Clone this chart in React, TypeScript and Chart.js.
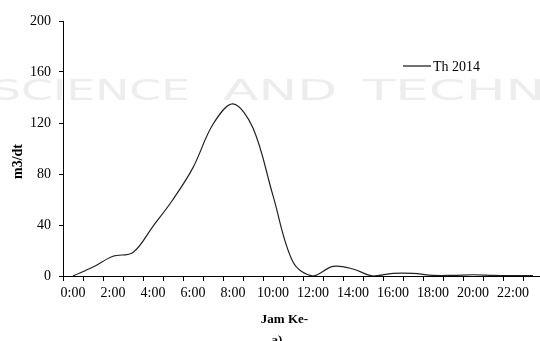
import React, { useEffect, useRef } from "react";
import { Chart, registerables } from "chart.js";

Chart.register(...registerables);

const hours: string[] = [
  "0:00", "1:00", "2:00", "3:00", "4:00", "5:00", "6:00", "7:00",
  "8:00", "9:00", "10:00", "11:00", "12:00", "13:00", "14:00", "15:00",
  "16:00", "17:00", "18:00", "19:00", "20:00", "21:00", "22:00", "23:00",
];
const th2014: number[] = [
  0, 7, 15.5, 18.5, 39, 60, 85, 119,
  135, 116, 63, 11, 0, 7.5, 5.5, 0,
  2, 2, 0.5, 0.5, 1, 0.5, 0.3, 0.3,
];
const seriesName = "Th 2014";
const yTitle = "m3/dt";
const xTitle = "Jam Ke-";
const panelLabel = "a)";
const yMin = 0;
const yMax = 200;
const yStep = 40;

const SERIF = "'Liberation Serif', 'Times New Roman', serif";

const overlayPlugin = {
  id: "overlay",
  beforeDraw(chart: any) {
    const ctx = chart.ctx as CanvasRenderingContext2D;
    ctx.save();
    ctx.fillStyle = "#ededed";
    ctx.font = "28px 'DejaVu Sans', sans-serif";
    ctx.textBaseline = "alphabetic";
    ctx.textAlign = "left";
    const words: [string, number, number][] = [
      ["SCIENCE", -8, 198],
      ["AND", 223, 114],
    ];
    for (const [w, x, target] of words) {
      const m = ctx.measureText(w).width;
      ctx.save();
      ctx.translate(x, 100);
      ctx.scale(target / m, 1);
      ctx.fillText(w, 0, 0);
      ctx.restore();
    }
    const mT = ctx.measureText("TECHN").width;
    ctx.save();
    ctx.translate(363, 100);
    ctx.scale(182 / mT, 1);
    ctx.fillText("TECHNOLOGY", 0, 0);
    ctx.restore();
    ctx.restore();
  },
  afterDraw(chart: any) {
    const ctx = chart.ctx as CanvasRenderingContext2D;
    ctx.save();
    // legend
    ctx.strokeStyle = "#111";
    ctx.lineWidth = 1.2;
    ctx.beginPath();
    ctx.moveTo(403, 66);
    ctx.lineTo(431, 66);
    ctx.stroke();
    ctx.fillStyle = "#000";
    ctx.font = `14px ${SERIF}`;
    ctx.textAlign = "left";
    ctx.textBaseline = "alphabetic";
    ctx.fillText(seriesName, 433, 70.5);
    // x title
    ctx.font = `bold 13px ${SERIF}`;
    ctx.textAlign = "center";
    ctx.fillText(xTitle, 284.5, 322.5);
    ctx.fillText(panelLabel, 277, 344);
    // y title
    ctx.save();
    ctx.translate(21.5, 161.5);
    ctx.rotate(-Math.PI / 2);
    ctx.font = `bold 14px ${SERIF}`;
    ctx.textAlign = "center";
    ctx.textBaseline = "alphabetic";
    ctx.fillText(yTitle, 0, 0);
    ctx.restore();
    ctx.restore();
  },
};

export default function App() {
  const ref = useRef<HTMLCanvasElement | null>(null);
  useEffect(() => {
    if (!ref.current) return;
    const chart = new Chart(ref.current, {
      type: "line",
      data: {
        labels: hours,
        datasets: [
          {
            label: seriesName,
            data: th2014,
            borderColor: "#222",
            borderWidth: 1.2,
            pointRadius: 0,
            fill: false,
            tension: 0.35,
          },
        ],
      },
      options: {
        responsive: false,
        animation: false,
        layout: { padding: { top: 21, right: 17, left: 0, bottom: 0 } },
        plugins: {
          legend: { display: false },
          tooltip: { enabled: false },
        },
        scales: {
          x: {
            type: "category",
            offset: true,
            border: { display: true, color: "#000", width: 1 },
            grid: {
              display: true,
              offset: true,
              drawOnChartArea: false,
              drawTicks: true,
              tickLength: 5,
              color: "#000",
            },
            ticks: {
              autoSkip: false,
              maxRotation: 0,
              minRotation: 0,
              padding: 4,
              color: "#000",
              font: { family: SERIF, size: 14 },
              callback: (_v: any, i: number) => (i % 2 === 0 ? hours[i] : ""),
            },
            afterFit: (s: any) => {
              s.height = 65;
            },
          },
          y: {
            min: yMin,
            max: yMax,
            border: { display: true, color: "#000", width: 1 },
            grid: {
              display: true,
              drawOnChartArea: false,
              drawTicks: true,
              tickLength: 4,
              color: "#000",
            },
            ticks: {
              stepSize: yStep,
              padding: 8,
              color: "#000",
              font: { family: SERIF, size: 14 },
            },
            afterFit: (s: any) => {
              s.width = 63;
            },
          },
        },
      },
      plugins: [overlayPlugin],
    });
    return () => chart.destroy();
  }, []);
  return (
    <div
      style={{
        position: "fixed",
        left: 0,
        top: 0,
        width: 540,
        height: 341,
        overflow: "hidden",
        background: "#fff",
      }}
    >
      <canvas ref={ref} width={560} height={341} style={{ width: 560, height: 341, display: "block" }} />
    </div>
  );
}
